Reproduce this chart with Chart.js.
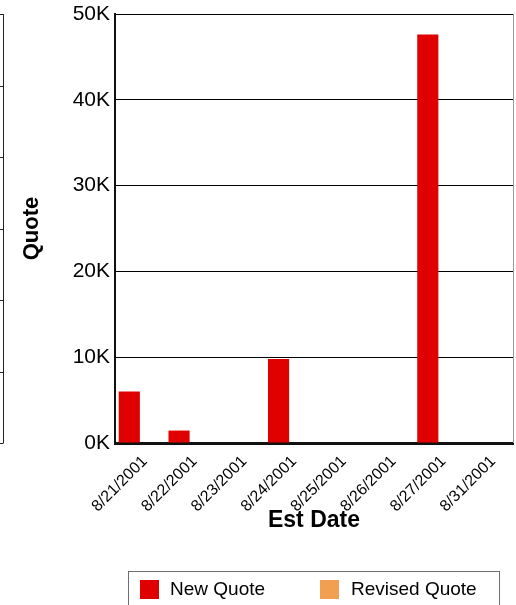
<!DOCTYPE html>
<html>
<head>
<meta charset="utf-8">
<script src="https://cdn.jsdelivr.net/npm/chart.js@4"></script>
<style>
  body { margin: 0; background: #fff; }
  #wrap { position: relative; width: 516px; height: 605px; overflow: hidden; }
  #legend { position: absolute; left: 128px; top: 571px; width: 370px; height: 60px;
    border: 1px solid #6e6e6e; font-family: "Liberation Sans", Arial, sans-serif; font-size: 19px; color: #000; }
  .sw { position: absolute; top: 8px; width: 19px; height: 19px; }
  .lb { position: absolute; top: 6px; line-height: 22px; }
</style>
</head>
<body>
<div id="wrap">
  <canvas id="myChart" width="516" height="605"></canvas>
  <div id="legend"></div>
</div>
<script>
var dates = ["8/21/2001", "8/22/2001", "8/23/2001", "8/24/2001", "8/25/2001", "8/26/2001", "8/27/2001", "8/31/2001"];
var newQuote = [6000, 1450, 0, 9800, 0, 0, 47600, 0];
var revisedQuote = [0, 0, 0, 0, 0, 0, 0, 0];
var seriesNames = ["New Quote", "Revised Quote"];
var seriesColors = ["#e00000", "#f0a050"];

var font = '"Liberation Sans", Arial, sans-serif';

// рамка соседнего графика слева и правая граница области
var framePlugin = {
  id: 'frame',
  afterDraw: function(chart) {
    var ctx = chart.ctx;
    var a = chart.chartArea;
    ctx.save();
    ctx.strokeStyle = '#999';
    ctx.lineWidth = 1;
    ctx.beginPath();
    ctx.moveTo(a.right + 0.5, a.top);
    ctx.lineTo(a.right + 0.5, a.bottom);
    ctx.stroke();
    ctx.strokeStyle = '#222';
    ctx.beginPath();
    ctx.moveTo(3.5, a.top);
    ctx.lineTo(3.5, a.bottom);
    var step = (a.bottom - a.top) / 6;
    for (var i = 0; i <= 6; i++) {
      var y = Math.round(a.top + step * i) + 0.5;
      ctx.moveTo(0, y);
      ctx.lineTo(3.5, y);
    }
    ctx.stroke();
    ctx.restore();
  }
};

var canvas = document.getElementById('myChart');
var myChart = new Chart(canvas, {
  type: 'bar',
  data: {
    labels: dates,
    datasets: [{
      label: seriesNames[0],
      data: newQuote,
      backgroundColor: seriesColors[0],
      categoryPercentage: 0.85,
      barPercentage: 1.0
    }, {
      label: seriesNames[1],
      data: revisedQuote,
      backgroundColor: seriesColors[1],
      categoryPercentage: 0.85,
      barPercentage: 1.0
    }]
  },
  options: {
    responsive: false,
    animation: false,
    layout: { padding: { top: 14, right: 3, bottom: 67, left: 0 } },
    plugins: { legend: { display: false }, tooltip: { enabled: false } },
    scales: {
      x: {
        grid: { display: false },
        border: { color: '#111', width: 3 },
        ticks: {
          color: '#000', font: { family: font, size: 16 },
          minRotation: 45, maxRotation: 45, padding: 1, labelOffset: 5
        },
        title: { display: true, text: 'Est Date', color: '#000',
          font: { family: font, size: 23, weight: 'bold' }, padding: { top: 0, bottom: 4 } },
        afterFit: function(scale) { scale.height = 95; scale.paddingLeft = 0; scale.paddingRight = 0; }
      },
      y: {
        min: 0, max: 50000,
        grid: { color: '#000', lineWidth: 1, tickLength: 0 },
        border: { color: '#111', width: 2 },
        ticks: {
          stepSize: 10000, color: '#000', padding: 5,
          font: { family: font, size: 21 },
          callback: function(v) { return (v / 1000) + 'K'; }
        },
        title: { display: true, text: 'Quote', color: '#000',
          font: { family: font, size: 22, weight: 'bold' }, padding: { top: 19, bottom: 0 } },
        afterFit: function(scale) { scale.width = 115; scale.paddingTop = 0; scale.paddingBottom = 0; }
      }
    }
  },
  plugins: [framePlugin]
});

var leg = document.getElementById('legend');
var offs = [[11, 41], [191, 222]];
for (var i = 0; i < seriesNames.length; i++) {
  var s = document.createElement('div');
  s.className = 'sw';
  s.style.left = offs[i][0] + 'px';
  s.style.background = seriesColors[i];
  leg.appendChild(s);
  var t = document.createElement('div');
  t.className = 'lb';
  t.style.left = offs[i][1] + 'px';
  t.textContent = seriesNames[i];
  leg.appendChild(t);
}
</script>
</body>
</html>
